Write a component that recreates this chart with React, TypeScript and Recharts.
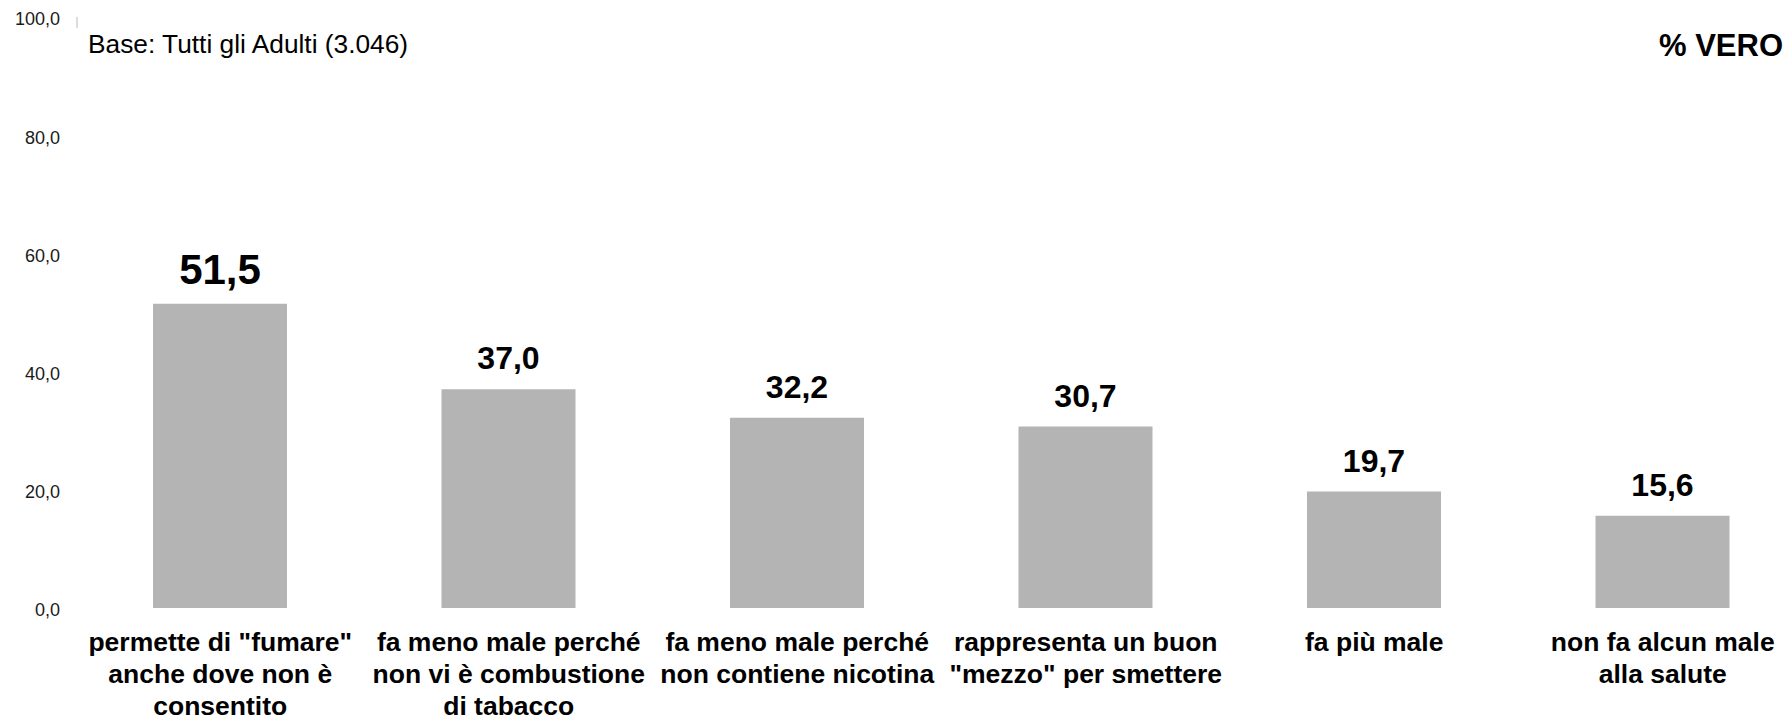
import React from 'react';
import { BarChart, Bar, XAxis, YAxis, LabelList } from 'recharts';

// categories (line breaks as in the original slide)
const categories = [
  'permette di "fumare"\nanche dove non è\nconsentito',
  'fa meno male perché\nnon vi è combustione\ndi tabacco',
  'fa meno male perché\nnon contiene nicotina',
  'rappresenta un buon\n"mezzo" per smettere',
  'fa più male',
  'non fa alcun male\nalla salute',
];

const vero = [51.5, 37.0, 32.2, 30.7, 19.7, 15.6];

const yTicks = [0, 20, 40, 60, 80, 100];

const baseText = 'Base: Tutti gli Adulti (3.046)';
const measureText = '% VERO';

const data = categories.map((name, i) => ({ name, value: vero[i] }));

const FONT = '"Liberation Sans", Arial, sans-serif';
const fmt = (v: number) => v.toFixed(1).replace('.', ',');

const CategoryTick = (props: any) => {
  const { x, y, payload } = props;
  const lines = String(payload.value).split('\n');
  return (
    <text x={x} y={y} textAnchor="middle" fontFamily={FONT} fontSize={26.5} fontWeight="bold" fill="#000">
      {lines.map((l, i) => (
        <tspan key={i} x={x} dy={i === 0 ? 19 : 32}>{l}</tspan>
      ))}
    </text>
  );
};

const ValueLabel = (props: any) => {
  const { x, y, width, value, index } = props;
  return (
    <text
      x={Number(x) + Number(width) / 2}
      y={Number(y) - 20}
      textAnchor="middle"
      fontFamily={FONT}
      fontWeight="bold"
      fontSize={index === 0 ? 42 : 32}
      fill="#000"
    >
      {fmt(Number(value))}
    </text>
  );
};

export default function App() {
  return (
    <div style={{ position: 'relative', width: 1789, height: 718, overflow: 'hidden', background: '#fff' }}>
      <style>{'html,body{margin:0;padding:0;overflow:hidden;}'}</style>
      <BarChart
        width={1807}
        height={718}
        data={data}
        margin={{ top: 17, right: 0, bottom: 0, left: 0 }}
        barCategoryGap={0}
      >
        <YAxis
          domain={[0, 100]}
          ticks={yTicks}
          width={76}
          axisLine={false}
          tickLine={false}
          tickSize={0}
          tickMargin={16}
          tickFormatter={fmt}
          tick={{ fontFamily: FONT, fontSize: 18, fill: '#1a1a1a', dy: 2 }}
        />
        <XAxis
          dataKey="name"
          height={110}
          axisLine={false}
          tickLine={false}
          tickSize={0}
          tickMargin={24}
          interval={0}
          tick={<CategoryTick />}
        />
        <Bar dataKey="value" fill="#b4b4b4" barSize={134} isAnimationActive={false}>
          <LabelList dataKey="value" content={<ValueLabel />} />
        </Bar>
      </BarChart>
      <svg width={1789} height={718} style={{ position: 'absolute', left: 0, top: 0, pointerEvents: 'none' }}>
        <line x1={77} y1={17} x2={77} y2={28} stroke="#bbbbbb" strokeWidth={1} />
        <text x={88} y={53} fontFamily={FONT} fontSize={26.3} fill="#000">{baseText}</text>
        <text x={1783} y={56} textAnchor="end" fontFamily={FONT} fontSize={31} fontWeight="bold" fill="#000">{measureText}</text>
      </svg>
    </div>
  );
}
